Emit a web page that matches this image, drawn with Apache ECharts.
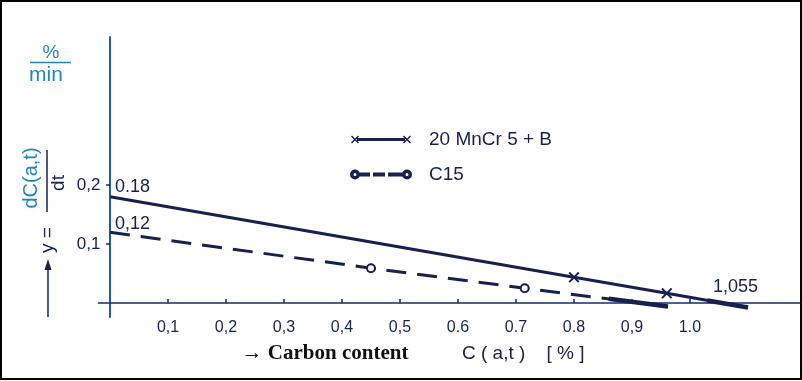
<!DOCTYPE html>
<html><head><meta charset="utf-8">
<script src="https://cdn.jsdelivr.net/npm/echarts@6/dist/echarts.min.js"></script>
<style>html,body{margin:0;padding:0;background:#fff}#c{width:802px;height:381px}</style>
</head><body><div id="c"></div>
<script>
// ---- data ----
const xTicks = [0.1, 0.2, 0.3, 0.4, 0.5, 0.6, 0.7, 0.8, 0.9, 1.0];
const xTickLabels = ['0,1', '0,2', '0,3', '0,4', '0,5', '0.6', '0.7', '0.8', '0,9', '1.0'];
const yTicks = [0.1, 0.2];
const yTickLabels = ['0,1', '0,2'];
const seriesNames = ['20 MnCr 5 + B', 'C15'];
const mncrX = [0, 0.8, 0.96, 1.1];
const mncrY = [0.18, 0.0435, 0.0165, -0.0077];
const mncrMarked = [false, true, true, false];
const mncrTailX = [1.03, 1.1];
const mncrTailY = [0.0043, -0.0077];
const c15X = [0, 0.45, 0.715, 0.962];
const c15Y = [0.12, 0.059, 0.025, -0.006];
const c15Marked = [false, true, true, false];
const c15TailX = [0.86, 0.962];
const c15TailY = [0.0073, -0.006];
const annoText = ['0.18', '0,12', '1,055'];
const annoX = [0, 0, 1.055];
const annoY = [0.18, 0.12, 0];

const NAVY = '#17204f';
const XMARK = 'path://M0,1L1,0L4,3L7,0L8,1L5,4L8,7L7,8L4,5L1,8L0,7L3,4Z';
const ICON1 = 'path://M0,1L1,0L4,3L7,0L8,1L5,4L8,7L7,8L4,5L1,8L0,7L3,4Z' +
  'M52,1L53,0L56,3L59,0L60,1L57,4L60,7L59,8L56,5L53,8L52,7L55,4Z' +
  'M6,2.6L54,2.6L54,5.4L6,5.4Z';
const ICON2 = 'path://M0,4A4,4 0 1,0 8,4A4,4 0 1,0 0,4Z M1.5,4A2.5,2.5 0 1,1 6.5,4A2.5,2.5 0 1,1 1.5,4Z' +
  'M52,4A4,4 0 1,0 60,4A4,4 0 1,0 52,4Z M53.5,4A2.5,2.5 0 1,1 58.5,4A2.5,2.5 0 1,1 53.5,4Z' +
  'M8,3L18,3L18,5L8,5Z M23,3L33,3L33,5L23,5Z M38,3L52,3L52,5L38,5Z';

function pts(xs, ys, marked, sym) {
  return xs.map((x, i) => ({ value: [x, ys[i]], symbol: marked && marked[i] ? sym : 'none' }));
}

const chart = echarts.init(document.getElementById('c'), null, { renderer: 'canvas' });
const option = {
  backgroundColor: '#fff',
  animation: false,
  grid: { left: 98.4, top: 37, width: 701.6, height: 280, containLabel: false },
  legend: {
    left: 345, top: 125, orient: 'vertical', itemGap: 16,
    itemWidth: 60, itemHeight: 10,
    data: [{ name: seriesNames[0], icon: ICON1 }, { name: seriesNames[1], icon: ICON2 }],
    textStyle: { color: NAVY, fontFamily: 'Liberation Sans', fontSize: 19, padding: [0, 0, 0, 13] }
  },
  xAxis: {
    type: 'value', min: -0.02, max: 1.1897,
    axisLine: { onZero: true, lineStyle: { color: '#1a2a66', width: 1.5 } },
    axisTick: { show: true, inside: true, length: 4, customValues: xTicks, lineStyle: { color: '#1a2a66', width: 1.5 } },
    axisLabel: {
      customValues: xTicks, margin: 3, color: NAVY, fontFamily: 'Liberation Sans Narrow, Liberation Sans', fontSize: 16,
      formatter: v => xTickLabels[Math.round(v * 10) - 1]
    },
    splitLine: { show: false }
  },
  yAxis: {
    type: 'value', min: -0.0237, max: 0.4508,
    axisLine: { onZero: true, lineStyle: { color: '#1f5cab', width: 2 } },
    axisTick: { show: true, length: 4, customValues: yTicks, lineStyle: { color: '#1a2a66', width: 1.5 } },
    axisLabel: {
      customValues: yTicks, margin: -2, color: NAVY, fontFamily: 'Liberation Sans', fontSize: 17,
      formatter: v => yTickLabels[Math.round(v * 10) - 1]
    },
    splitLine: { show: false }
  },
  series: [
    {
      name: seriesNames[0], type: 'line', data: pts(mncrX, mncrY, mncrMarked, XMARK),
      symbolSize: 11, showSymbol: true, color: NAVY,
      lineStyle: { color: NAVY, width: 3 }, itemStyle: { color: NAVY }, z: 3
    },
    {
      name: seriesNames[1], type: 'line', data: pts(c15X, c15Y, c15Marked, 'circle'),
      symbolSize: 8, showSymbol: true, color: NAVY,
      lineStyle: { color: NAVY, width: 3, type: [20, 11] },
      itemStyle: { color: '#fff', borderColor: NAVY, borderWidth: 2 }, z: 3
    },
    {
      type: 'line', data: mncrTailX.map((x, i) => [x, mncrTailY[i]]), symbol: 'none',
      lineStyle: { color: NAVY, width: 4.5 }, z: 2, silent: true
    },
    {
      type: 'line', data: c15TailX.map((x, i) => [x, c15TailY[i]]), symbol: 'none',
      lineStyle: { color: NAVY, width: 4.5 }, z: 2, silent: true
    }
  ]
};
chart.setOption(option);

const annoOffsets = [[5, -10], [5, -8], [-9, -16]];
const annoGraphics = annoText.map((t, i) => {
  const p = chart.convertToPixel({ gridIndex: 0 }, [annoX[i], annoY[i]]);
  return {
    type: 'text', x: p[0] + annoOffsets[i][0], y: p[1] + annoOffsets[i][1],
    style: { text: t, fill: NAVY, font: '18px "Liberation Sans"', textAlign: 'left', textVerticalAlign: 'middle' }
  };
});

const TEAL = '#1f86c0';
chart.setOption({
  graphic: annoGraphics.concat([
    { type: 'rect', shape: { x: 1, y: 1, width: 800, height: 378 }, style: { fill: 'none', stroke: '#000', lineWidth: 2 } },
    // y unit fraction
    { type: 'text', x: 51, y: 53, style: { text: '%', fill: TEAL, font: '19px "Liberation Sans"', textAlign: 'center', textVerticalAlign: 'middle' } },
    { type: 'line', shape: { x1: 30, y1: 62.5, x2: 71, y2: 62.5 }, style: { stroke: TEAL, lineWidth: 1.5 } },
    { type: 'text', x: 46, y: 75, style: { text: 'min', fill: TEAL, font: '21px "Liberation Sans"', textAlign: 'center', textVerticalAlign: 'middle' } },
    // rotated y title
    { type: 'text', x: 31, y: 178, rotation: Math.PI / 2, style: { text: 'dC(a,t)', fill: TEAL, font: '20px "Liberation Sans"', textAlign: 'center', textVerticalAlign: 'middle' } },
    { type: 'line', shape: { x1: 47, y1: 150, x2: 47, y2: 212 }, style: { stroke: NAVY, lineWidth: 1.5 } },
    { type: 'text', x: 59, y: 183, rotation: Math.PI / 2, style: { text: 'dt', fill: NAVY, font: '19px "Liberation Sans"', textAlign: 'center', textVerticalAlign: 'middle' } },
    { type: 'text', x: 48, y: 240, rotation: Math.PI / 2, style: { text: 'y =', fill: NAVY, font: '19px "Liberation Sans"', textAlign: 'center', textVerticalAlign: 'middle' } },
    { type: 'line', shape: { x1: 48, y1: 317, x2: 48, y2: 266 }, style: { stroke: NAVY, lineWidth: 1.5 } },
    { type: 'polygon', shape: { points: [[48, 259], [44.5, 270], [51.5, 270]] }, style: { fill: NAVY } },
    // x title
    { type: 'text', x: 325, y: 354, style: { text: '\u2192 Carbon content', fill: '#111', font: 'bold 21px "Liberation Serif"', textAlign: 'center', textVerticalAlign: 'middle' } },
    { type: 'text', x: 462, y: 354, style: { text: 'C ( a,t )    [ % ]', fill: NAVY, font: '19px "Liberation Sans"', textAlign: 'left', textVerticalAlign: 'middle' } }
  ])
});
</script></body></html>
